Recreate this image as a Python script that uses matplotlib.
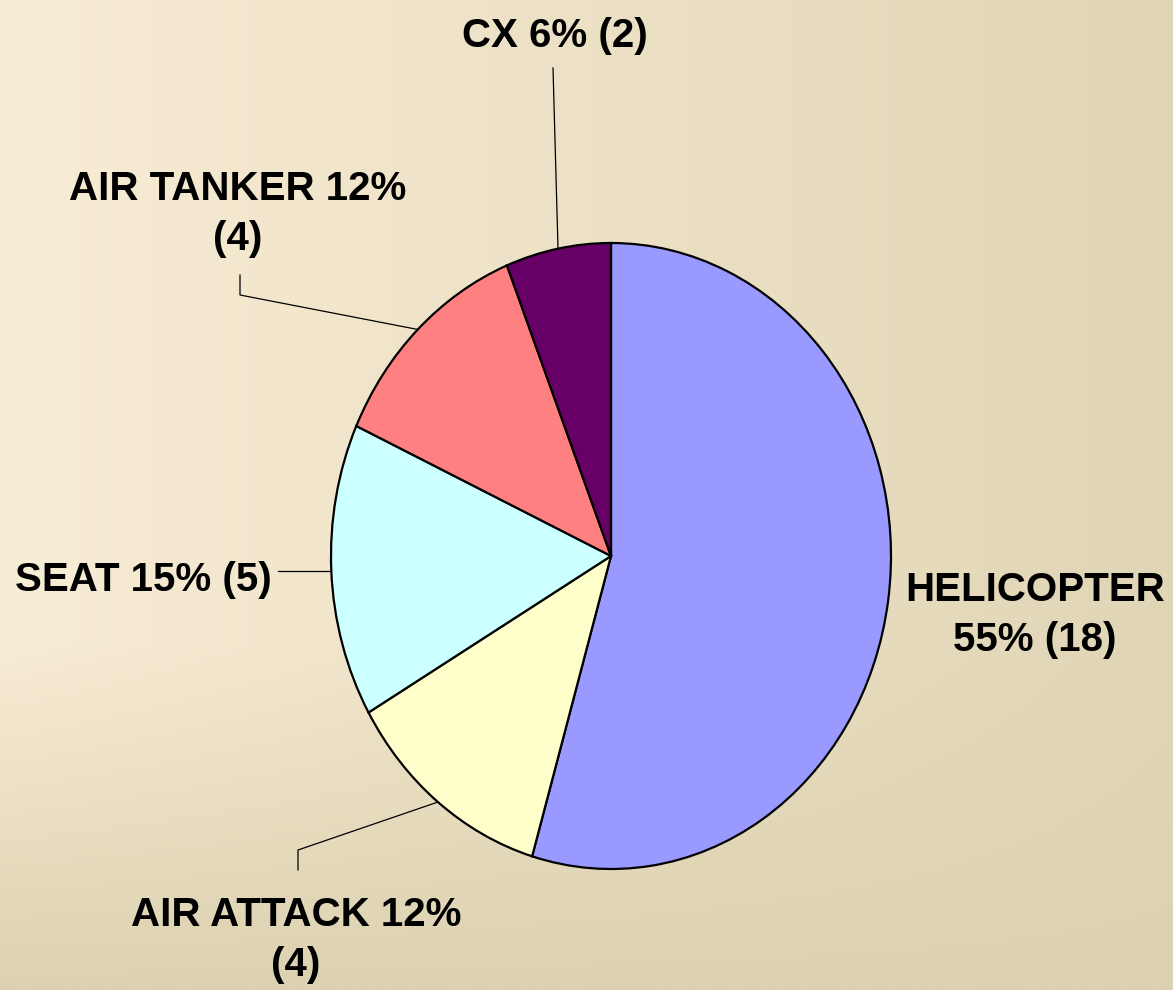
import numpy as np
import matplotlib
matplotlib.use("Agg")
from matplotlib import pyplot as plt

# data
labels = ["HELICOPTER", "AIR ATTACK", "SEAT", "AIR TANKER", "CX"]
counts = [18, 4, 5, 4, 2]
percents = [55, 12, 15, 12, 6]
colors = ["#9999FF", "#FFFFCC", "#CCFFFF", "#FF8080", "#660066"]

W, H = 1173, 990
plt.rcParams['font.family'] = ['Liberation Sans', 'DejaVu Sans']

fig = plt.figure(figsize=(W / 100, H / 100), dpi=100)

# background gradient: cream at top-left, tan to the right and at the bottom
bg = fig.add_axes([0, 0, 1, 1])
xx, yy = np.meshgrid(np.linspace(0, 1, 300), np.linspace(0, 1, 260))
ty = np.clip((yy - 0.65) / 0.35, 0, 1)
t = 1 - (1 - xx * 0.85) * (1 - ty)
c0 = np.array([248, 237, 213]) / 255.
c1 = np.array([220, 209, 176]) / 255.
img = c0[None, None, :] * (1 - t[..., None]) + c1[None, None, :] * t[..., None]
bg.imshow(img, extent=[0, W, H, 0], aspect='auto', interpolation='bilinear')
bg.set_xlim(0, W)
bg.set_ylim(H, 0)
bg.axis('off')

# pie (stretched into an ellipse)
ax = fig.add_axes([331 / W, 1 - 869 / H, 560 / W, 626 / H])
wedges, _ = ax.pie(counts, colors=colors, startangle=90, counterclock=False,
                   wedgeprops=dict(edgecolor='black', linewidth=1.6))
ax.set_aspect('auto')
ax.set_xlim(-1, 1)
ax.set_ylim(-1, 1)
ax.axis('off')


def edge_px(w):
    # midpoint of wedge on the rim, in figure pixel coords (y down)
    a = np.deg2rad((w.theta1 + w.theta2) / 2)
    x, y = ax.transData.transform((np.cos(a), np.sin(a)))
    return x, H - y


text_kw = dict(fontsize=29, fontweight='bold', ha='center', va='center',
               linespacing=1.4, color='black')

# label positions and leader line elbows (pixels)
lab_pos = {
    "HELICOPTER": (1035, 615),
    "AIR ATTACK": (296, 940),
    "SEAT": (143, 580),
    "AIR TANKER": (238, 214),
    "CX": (555, 36),
}
leaders = {
    "AIR ATTACK": [(298, 870), (298, 850)],
    "SEAT": [(278, None)],
    "AIR TANKER": [(240, 275), (240, 295)],
    "CX": [(553, 68)],
}

for lab, n, p, w in zip(labels, counts, percents, wedges):
    if lab == "HELICOPTER":
        s = f"{lab}\n{p}% ({n})"
    elif lab in ("AIR ATTACK", "AIR TANKER"):
        s = f"{lab} {p}%\n({n})"
    else:
        s = f"{lab} {p}% ({n})"
    bg.text(*lab_pos[lab], s, **text_kw)
    if lab in leaders:
        end = edge_px(w)
        # None -> keep the segment horizontal
        pts = [(q[0], end[1] if q[1] is None else q[1]) for q in leaders[lab]]
        pts.append(end)
        bg.plot([q[0] for q in pts], [q[1] for q in pts], color='black',
                linewidth=0.9, solid_joinstyle='miter')

fig.savefig("out.png", dpi=100)
